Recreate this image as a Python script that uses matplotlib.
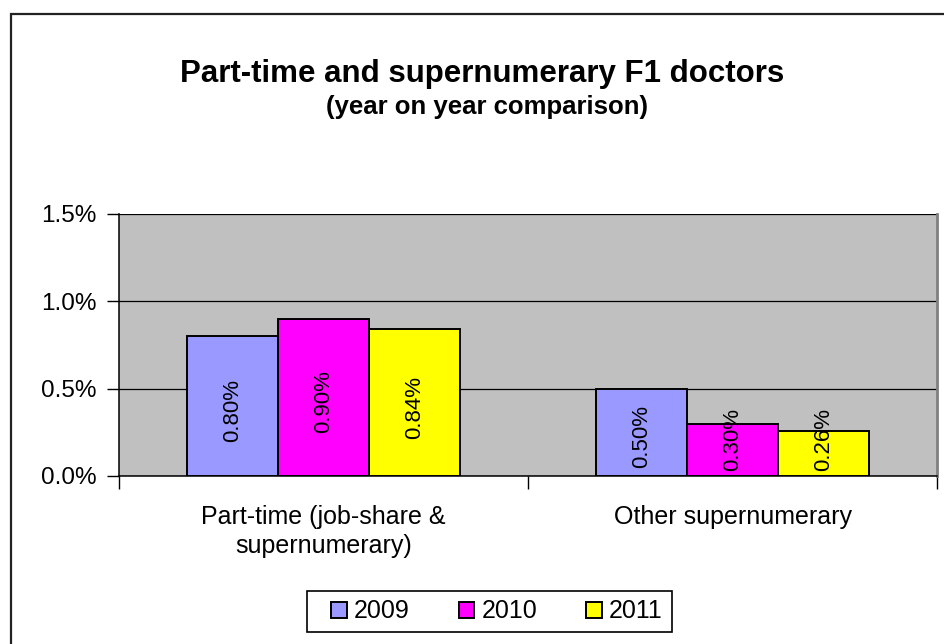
import matplotlib
matplotlib.use("Agg")
import matplotlib.pyplot as plt
from matplotlib.patches import Rectangle
from matplotlib.ticker import FuncFormatter
import numpy as np

plt.rcParams['font.family'] = ['Liberation Sans', 'DejaVu Sans']

categories = ["Part-time (job-share &\nsupernumerary)", "Other supernumerary"]
years = ["2009", "2010", "2011"]
values = {
    "2009": [0.80, 0.50],
    "2010": [0.90, 0.30],
    "2011": [0.84, 0.26],
}
colors = {"2009": "#9999FF", "2010": "#FF00FF", "2011": "#FFFF00"}
yticks = [0.0, 0.5, 1.0, 1.5]

W, H = 944, 644
fig = plt.figure(figsize=(W / 100, H / 100), dpi=100)
fig.patch.set_facecolor("white")

# chart border (left & top visible)
fig.patches.append(Rectangle((11 / W, -0.2), 1.5, 1 - 14 / H + 0.2,
                             transform=fig.transFigure, fill=False,
                             edgecolor="#222222", linewidth=1.6, zorder=0))

ax = fig.add_axes([119 / W, 1 - 476 / H, (937 - 119) / W, (476 - 214) / H])
ax.set_facecolor("#C0C0C0")

x = np.arange(len(categories))
bw = 1 / 4.5
for i, yr in enumerate(years):
    pos = x + (i - 1) * bw
    ax.bar(pos, values[yr], width=bw, color=colors[yr], edgecolor="black",
           linewidth=1.4, label=yr, zorder=3)
    for p, v in zip(pos, values[yr]):
        yc = max(v / 2 - 0.025, 0.21)
        ax.text(p, yc, f"{v:.2f}%", rotation=90, ha="center", va="center",
                fontsize=16, color="black", zorder=4)

ax.set_xlim(-0.5, 1.5)
ax.set_ylim(0, 1.5)
ax.set_yticks(yticks)
ax.yaxis.set_major_formatter(FuncFormatter(lambda v, p: f"{v:.1f}%"))
ax.yaxis.grid(True, color="black", linewidth=0.9, zorder=1)
ax.set_axisbelow(True)

ax.set_xticks(x)
ax.set_xticklabels(categories, fontsize=18, linespacing=1.25)
ax.set_xticks([-0.5, 0.5, 1.5], minor=True)
ax.tick_params(axis="x", which="major", length=0, pad=21)
ax.tick_params(axis="x", which="minor", length=9, width=1, color="black", direction="out")
ax.tick_params(axis="y", which="major", length=9, width=1, color="black",
               direction="out", labelsize=17.5, pad=7)

for s in ["left", "bottom"]:
    ax.spines[s].set_color("black")
    ax.spines[s].set_linewidth(1.1)
ax.spines["top"].set_visible(False)
ax.spines["right"].set_color("#808080")
ax.spines["right"].set_linewidth(2)

fig.text(482 / W, 1 - 82 / H, "Part-time and supernumerary F1 doctors",
         ha="center", va="baseline", fontsize=22.5, fontweight="bold")
fig.text(487 / W, 1 - 114 / H, "(year on year comparison)",
         ha="center", va="baseline", fontsize=18.5, fontweight="bold")

# legend box
fig.patches.append(Rectangle((307 / W, 1 - 632 / H), (672 - 307) / W, (632 - 591) / H,
                             transform=fig.transFigure, fill=False,
                             edgecolor="black", linewidth=1.2, zorder=5))
leg = fig.legend(loc="center", bbox_to_anchor=(497 / W, 1 - 611.5 / H),
                 ncol=3, fontsize=18, frameon=False,
                 handlelength=0.62, handleheight=0.62, handletextpad=0.3,
                 columnspacing=1.95, borderpad=0.3)

fig.savefig("out.png", dpi=100)
